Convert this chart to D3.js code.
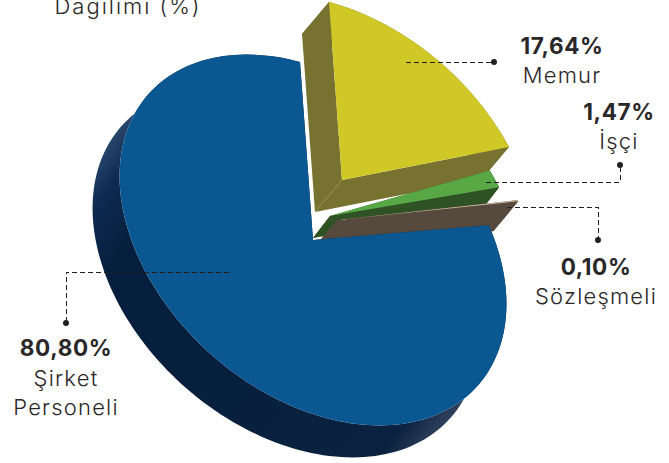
<!DOCTYPE html>
<html>
<head>
<meta charset="utf-8">
<script src="https://cdn.jsdelivr.net/npm/d3@7"></script>
<style>
  html, body { margin: 0; padding: 0; background: #fff; }
  text { font-family: "Inter", "Lato", sans-serif; fill: #2a2728; text-anchor: middle; }
  .pct { font-weight: 700; font-size: 22.5px; letter-spacing: 0.6px; }
  .name { font-weight: 300; font-size: 22px; letter-spacing: 1.2px; }
  .title { letter-spacing: 2px; }
</style>
</head>
<body>
<script>
var categories = ["Memur", "İşçi", "Sözleşmeli", "Şirket Personeli"];
var values = [17.64, 1.47, 0.10, 80.80];
var valueLabels = ["17,64%", "1,47%", "0,10%", "80,80%"];
var title = "Dağılımı (%)";

var w = 669, h = 463;
var center = [313, 240];
// the disc is a tilted circle: unit circle -> screen
var tilt = {a: 193, b: 52, c: 13, d: 178};

// per slice look, same order as categories
var topColor = ["#d0c827", "#58a846", "#c9b39c", "#0a5791"];
var sideColor = ["#787230", "#2e5224", "#564a3e", "url(#blueSide)"];
var explode = [[29, -60], [17, -24], [24, -20], [0, 0]];
var depth = [[-27, 32], [-17, 22], [-25, 30], [-27, 32]];
var turn = [0, -4 * Math.PI / 180, -1 * Math.PI / 180, 0];
var stretch = [1, 1, 1.04, 1];

var svg = d3.select("body").append("svg")
    .attr("width", w)
    .attr("height", h)
    .style("display", "block");

// the rim fades out at both ends
var grad = svg.append("defs").append("linearGradient")
    .attr("id", "blueSide")
    .attr("gradientUnits", "userSpaceOnUse")
    .attr("x1", 115).attr("y1", 120)
    .attr("x2", 480).attr("y2", 400);
grad.append("stop").attr("offset", "0").attr("stop-color", "#2f4d74");
grad.append("stop").attr("offset", "0.08").attr("stop-color", "#0e2a50");
grad.append("stop").attr("offset", "0.2").attr("stop-color", "#061e3d");
grad.append("stop").attr("offset", "0.9").attr("stop-color", "#0a2240");
grad.append("stop").attr("offset", "0.98").attr("stop-color", "#33435f");

var pie = d3.pie().sort(null).value(function(d) { return d; });
var slices = pie(values);

function project(i, angle, r) {
  var t = angle + turn[i];
  var ux = Math.sin(t) * r * stretch[i], uy = -Math.cos(t) * r * stretch[i];
  return [center[0] + explode[i][0] + tilt.a * ux + tilt.c * uy,
          center[1] + explode[i][1] + tilt.b * ux + tilt.d * uy];
}

function rim(i, s) {
  return d3.range(0, 161).map(function(k) {
    return project(i, s.startAngle + (s.endAngle - s.startAngle) * k / 160, 1);
  });
}

var line = d3.line();

function push(pts, i) {
  return pts.map(function(p) { return [p[0] + depth[i][0], p[1] + depth[i][1]]; });
}

// yellow, green, brown first, the big slice lies over them
slices.forEach(function(s, i) {
  var g = svg.append("g").attr("class", "slice");
  var arcPts = rim(i, s);
  var apex = project(i, s.startAngle, 0);
  var first = arcPts[0], last = arcPts[arcPts.length - 1];
  var walls = [
    arcPts.concat(push(arcPts, i).reverse()),
    [apex, first].concat(push([first, apex], i)),
    [apex, last].concat(push([last, apex], i))
  ];
  walls.forEach(function(pts) {
    g.append("path")
      .attr("d", line(pts) + "Z")
      .attr("fill", sideColor[i]);
  });
  g.append("path")
    .attr("d", line([apex].concat(arcPts)) + "Z")
    .attr("fill", topColor[i]);
});

// leader lines, dot at the label end
var leaders = [
  [[406, 62], [494, 62]],
  [[486, 182], [620, 182], [620, 165]],
  [[507, 207], [598, 207], [598, 240]],
  [[229, 272], [66, 272], [66, 323]]
];
leaders.forEach(function(pts) {
  svg.append("path")
    .attr("d", line(pts))
    .attr("fill", "none")
    .attr("stroke", "#231f20")
    .attr("stroke-width", 1)
    .attr("stroke-dasharray", "5,3")
    .attr("shape-rendering", "crispEdges");
  var end = pts[pts.length - 1];
  svg.append("circle")
    .attr("cx", end[0]).attr("cy", end[1])
    .attr("r", 3)
    .attr("fill", "#231f20");
});

// labels
var labelPos = [
  {x: 562, pct: 54, name: [83]},
  {x: 619, pct: 120, name: [149]},
  {x: 596, pct: 275, name: [304]},
  {x: 66, pct: 356, name: [386, 415]}
];
var nameLines = [["Memur"], ["İşçi"], ["Sözleşmeli"], ["Şirket", "Personeli"]];

labelPos.forEach(function(p, i) {
  svg.append("text").attr("class", "pct")
    .attr("x", p.x).attr("y", p.pct)
    .text(valueLabels[i]);
  nameLines[i].forEach(function(t, j) {
    svg.append("text").attr("class", "name")
      .attr("x", p.x).attr("y", p.name[j])
      .text(t);
  });
});

svg.append("text").attr("class", "name title")
  .attr("x", 128).attr("y", 14)
  .text(title);
</script>
</body>
</html>
